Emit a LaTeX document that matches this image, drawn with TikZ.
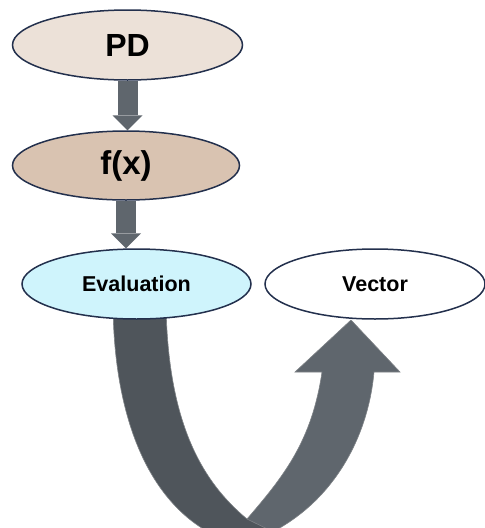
\documentclass[tikz,border=0pt]{standalone}
\usepackage{fontspec}
\setmainfont{Liberation Sans}
\usetikzlibrary{shapes.geometric,arrows.meta,backgrounds}
\definecolor{pdfill}{HTML}{ECE1D8}
\definecolor{fxfill}{HTML}{D9C3B1}
\definecolor{evfill}{HTML}{CFF4FC}
\definecolor{edge}{HTML}{23304D}
\definecolor{arrowgray}{HTML}{5F666D}
\definecolor{darkgray}{HTML}{4F555B}
\definecolor{rim}{HTML}{7E8286}
\tikzset{
  oval/.style={ellipse, draw=edge, line width=1.5pt, inner sep=0pt, font=\bfseries},
  conn/.style={arrowgray, line width=20pt, -{Triangle[length=15pt,width=30pt,line width=0pt]}},
  ribbon/.style={draw=rim, line width=0.6pt}
}
\begin{document}
\begin{tikzpicture}[x=1pt,y=-1pt]
\useasboundingbox (0,0) rectangle (485,528);
% big U-turn arrow (drawn first, behind the ovals)
\fill[arrowgray, ribbon] (247,519) .. controls (285,475) and (312,440) .. (322,372)
  -- (295,372) -- (351,320) -- (400,372) -- (374,372)
  .. controls (368,440) and (330,510) .. (255,540) -- (240,545) -- cycle;
\fill[darkgray, ribbon] (113,305) .. controls (114,420) and (150,510) .. (225,540)
  -- (300,545) -- (247,519)
  .. controls (200,480) and (168,420) .. (166,305) -- cycle;
% ovals
\node[oval, fill=pdfill, minimum width=230pt, minimum height=70pt, font=\bfseries\fontsize{32}{36}\selectfont] (pd) at (127.5,45) {PD};
\node[oval, fill=fxfill, minimum width=227pt, minimum height=69pt, font=\bfseries\fontsize{33}{38}\selectfont] (fx) at (126,165.5) {f(x)};
\node[oval, fill=evfill, minimum width=229pt, minimum height=70pt, font=\bfseries\fontsize{21.5}{25}\selectfont] (ev) at (136.5,284) {Evaluation};
\node[oval, fill=white, minimum width=220pt, minimum height=70pt, font=\bfseries\fontsize{21.5}{25}\selectfont] (vec) at (375,284) {Vector};
% straight connectors
\begin{scope}[on background layer]
\draw[conn] (pd.south) -- (pd.south |- fx.north);
\draw[conn] (fx.south) -- (fx.south |- ev.north);
\end{scope}
\end{tikzpicture}
\end{document}
